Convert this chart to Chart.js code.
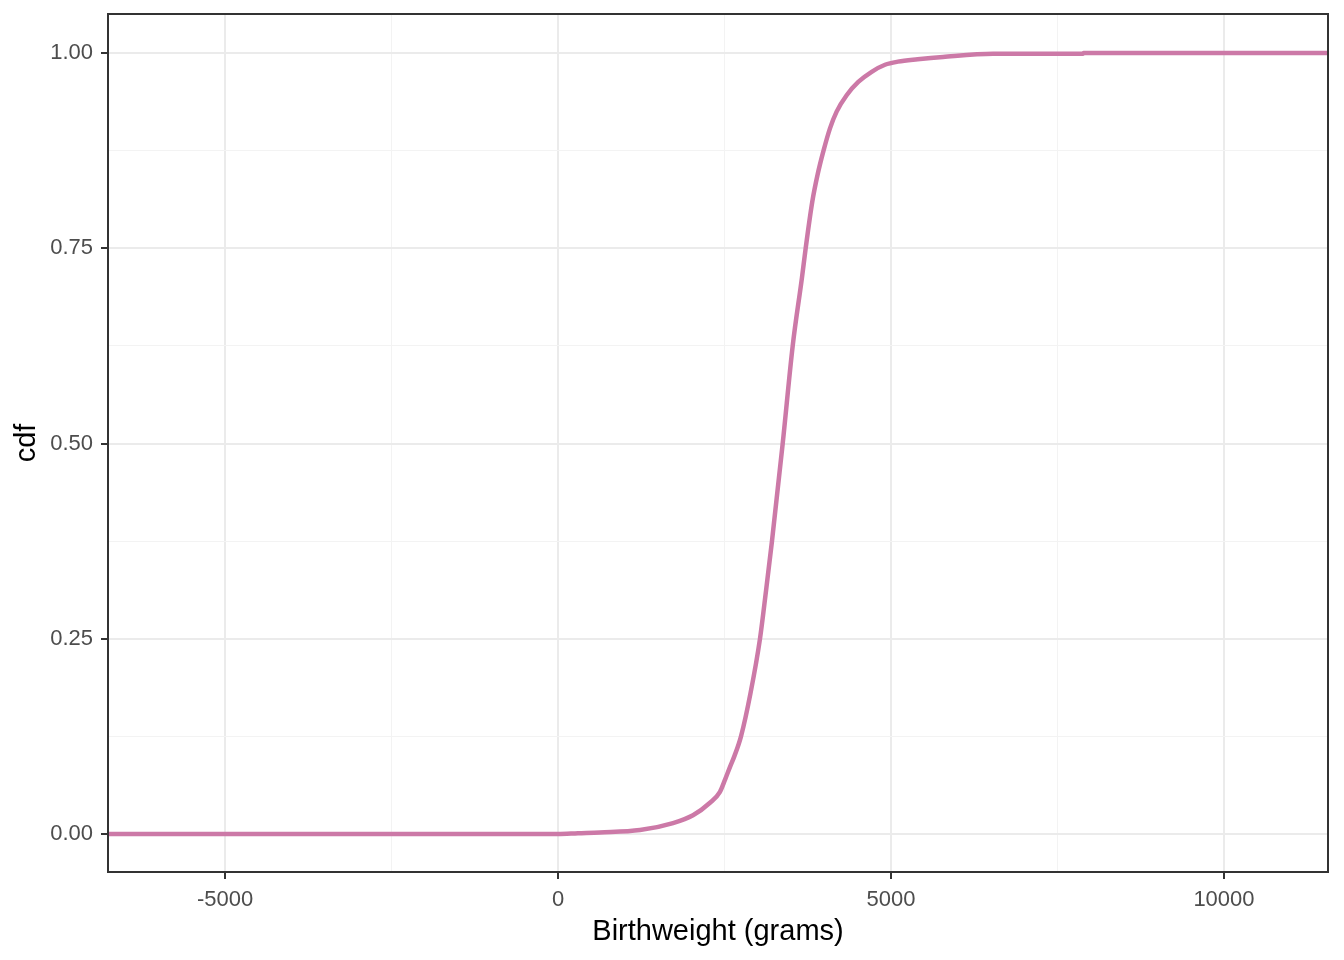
<!DOCTYPE html>
<html>
<head>
<meta charset="utf-8">
<script src="https://cdn.jsdelivr.net/npm/chart.js@4"></script>
<style>
  html, body { margin: 0; padding: 0; background: #fff; }
  #wrap { width: 1344px; height: 960px; position: relative; }
</style>
</head>
<body>
<div id="wrap"><canvas id="cdfChart"></canvas></div>
<script>
// birthweight (grams) and cdf
var weights = [-6757, 0, 300, 630, 1231, 1727, 2027, 2282, 2432, 2510, 2583, 2650, 2748, 2890, 3033,
  3125, 3213, 3374, 3524, 3664, 3719, 3819, 3900, 3984, 4084, 4184, 4334, 4509, 4710, 4910, 5105,
  5400, 5781, 6532, 7880, 7890, 11562];
var cdfValues = [0, 0, 0.001, 0.002, 0.005, 0.014, 0.024, 0.040, 0.054, 0.070, 0.086, 0.100, 0.125, 0.180, 0.25,
  0.3125, 0.375, 0.5, 0.625, 0.713, 0.75, 0.810, 0.845, 0.874, 0.9035, 0.925, 0.946, 0.963, 0.976, 0.985, 0.989,
  0.992, 0.995, 0.999, 0.999, 1.0, 1.0];

var xTicks = [-5000, -2500, 0, 2500, 5000, 7500, 10000];
var yTicks = [0, 0.125, 0.25, 0.375, 0.5, 0.625, 0.75, 0.875, 1];

var points = weights.map(function(w, i) { return {x: w, y: cdfValues[i]}; });

function isMajorX(v) { return v % 5000 === 0; }
function isMajorY(v) { return Math.abs(v * 4 - Math.round(v * 4)) < 1e-9; }

var panelBorder = {
  id: 'panelBorder',
  afterDraw: function(chart) {
    var a = chart.chartArea, c = chart.ctx;
    c.save();
    c.strokeStyle = '#333333';
    c.lineWidth = 2;
    c.strokeRect(a.left, a.top, a.right - a.left, a.bottom - a.top);
    c.restore();
  }
};

var ctx = document.getElementById('cdfChart');
var chart = new Chart(ctx, {
  type: 'line',
  data: {
    datasets: [{
      data: points,
      borderColor: '#CC79A7',
      borderWidth: 4.5,
      pointRadius: 0,
      cubicInterpolationMode: 'monotone',
      fill: false
    }]
  },
  options: {
    responsive: true,
    maintainAspectRatio: false,
    animation: false,
    layout: { padding: { top: 14, right: 16, left: 0, bottom: 0 } },
    plugins: { legend: { display: false }, tooltip: { enabled: false } },
    scales: {
      x: {
        type: 'linear',
        min: -6757,
        max: 11562,
        afterBuildTicks: function(scale) {
          scale.ticks = xTicks.map(function(v) { return {value: v}; });
        },
        afterFit: function(scale) {
          scale.height = 88;
          scale.paddingLeft = 0;
          scale.paddingRight = 0;
        },
        border: { display: false },
        grid: {
          color: function(c) { return isMajorX(c.tick.value) ? '#EBEBEB' : '#F3F3F3'; },
          lineWidth: function(c) { return isMajorX(c.tick.value) ? 2 : 1; },
          tickColor: function(c) { return isMajorX(c.tick.value) ? '#333333' : 'rgba(0,0,0,0)'; },
          tickWidth: 2,
          tickLength: 7
        },
        ticks: {
          autoSkip: false,
          maxRotation: 0,
          padding: 8,
          color: '#4D4D4D',
          font: { family: 'Liberation Sans', size: 22 },
          callback: function(v) { return isMajorX(v) ? String(v) : ''; }
        },
        title: {
          display: true,
          text: 'Birthweight (grams)',
          color: '#000000',
          font: { family: 'Liberation Sans', size: 29 },
          padding: { top: 0, bottom: 11 }
        }
      },
      y: {
        type: 'linear',
        min: -0.0487,
        max: 1.05,
        afterBuildTicks: function(scale) {
          scale.ticks = yTicks.map(function(v) { return {value: v}; });
        },
        afterFit: function(scale) {
          scale.width = 108;
          scale.paddingTop = 0;
          scale.paddingBottom = 0;
        },
        border: { display: false },
        grid: {
          color: function(c) { return isMajorY(c.tick.value) ? '#EBEBEB' : '#F3F3F3'; },
          lineWidth: function(c) { return isMajorY(c.tick.value) ? 2 : 1; },
          tickColor: function(c) { return isMajorY(c.tick.value) ? '#333333' : 'rgba(0,0,0,0)'; },
          tickWidth: 2,
          tickLength: 7
        },
        ticks: {
          autoSkip: false,
          padding: 8,
          color: '#4D4D4D',
          font: { family: 'Liberation Sans', size: 22 },
          callback: function(v) { return isMajorY(v) ? v.toFixed(2) : ''; }
        },
        title: {
          display: true,
          text: 'cdf',
          color: '#000000',
          font: { family: 'Liberation Sans', size: 29 },
          padding: { top: 10, bottom: 0 }
        }
      }
    }
  },
  plugins: [panelBorder]
});
</script>
</body>
</html>
